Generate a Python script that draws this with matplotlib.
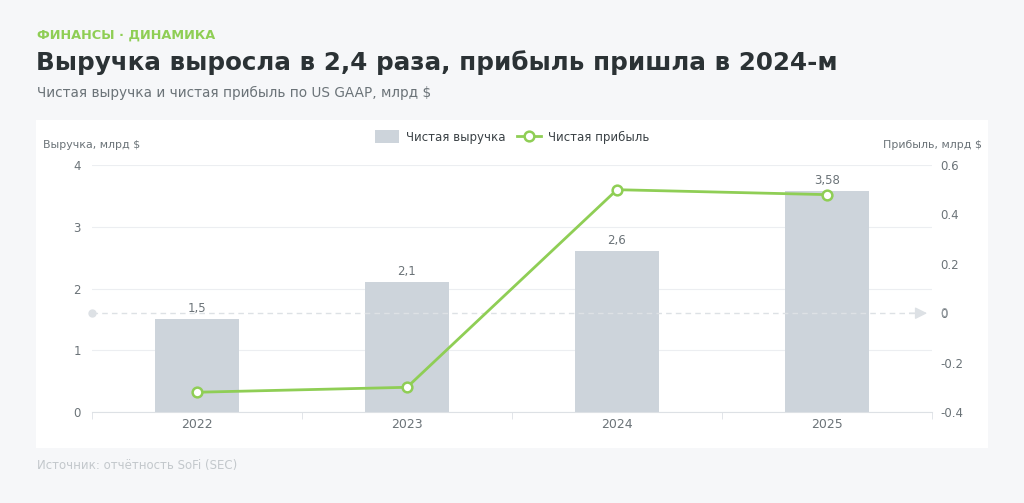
import matplotlib.pyplot as plt
from matplotlib.patches import Rectangle
from matplotlib.lines import Line2D
import numpy as np

# Data
years = ["2022", "2023", "2024", "2025"]
revenue = [1.5, 2.1, 2.6, 3.58]
revenue_labels = ["1,5", "2,1", "2,6", "3,58"]
profit = [-0.32, -0.30, 0.50, 0.48]

left_ticks = [0, 1, 2, 3, 4]
right_ticks = [-0.4, -0.2, 0, 0.2, 0.4, 0.6]
right_labels = ["-0.4", "-0.2", "0", "0.2", "0.4", "0.6"]

BG = "#f6f7f9"
BAR = "#cdd4db"
GREEN = "#8fce55"
TXT = "#6b7378"
GRID = "#eceef1"

plt.rcParams['font.family'] = ['DejaVu Sans']

fig = plt.figure(figsize=(10.24, 5.03), dpi=100)
fig.patch.set_facecolor(BG)

W, H = 1024, 503
# white panel behind the chart
fig.patches.append(Rectangle((36 / W, 1 - 448 / H), (988 - 36) / W, (448 - 120) / H,
                             transform=fig.transFigure, facecolor="white", edgecolor="none", zorder=-10))

# headings
fig.text(37 / W, 1 - 35 / H, "ФИНАНСЫ · ДИНАМИКА", color=GREEN, fontsize=9.3, fontweight="bold",
         va="center", ha="left")
fig.text(36 / W, 1 - 63 / H, "Выручка выросла в 2,4 раза, прибыль пришла в 2024-м", color="#2b3235",
         fontsize=17.7, fontweight="bold", va="center", ha="left")
fig.text(37 / W, 1 - 93 / H, "Чистая выручка и чистая прибыль по US GAAP, млрд $", color=TXT,
         fontsize=9.8, va="center", ha="left")
fig.text(37 / W, 1 - 466 / H, "Источник: отчётность SoFi (SEC)", color="#c3c8cc",
         fontsize=8.5, va="center", ha="left")

ax = fig.add_axes([92 / W, 1 - 412 / H, (932 - 92) / W, (412 - 165) / H])
ax.set_facecolor("none")
x = np.arange(len(years))
ax.bar(x, revenue, width=0.4, color=BAR, zorder=2)
for xi, v, lab in zip(x, revenue, revenue_labels):
    ax.text(xi, v + 0.07, lab, ha="center", va="bottom", fontsize=8.5, color=TXT)

ax.set_xlim(-0.5, 3.5)
ax.set_ylim(0, 4)
ax.set_yticks(left_ticks)
ax.set_yticklabels([str(t) for t in left_ticks])
ax.set_xticks(x)
ax.set_xticklabels(years)
ax.set_xticks(np.arange(-0.5, 4, 1), minor=True)
ax.tick_params(axis="x", which="major", length=0, colors=TXT, labelsize=9, pad=4)
ax.tick_params(axis="x", which="minor", length=5, color="#dde1e5", direction="out")
ax.tick_params(axis="y", length=0, colors=TXT, labelsize=8.5, pad=8)
ax.grid(axis="y", color=GRID, linewidth=0.8, zorder=0)
for s in ["top", "right", "left"]:
    ax.spines[s].set_visible(False)
ax.spines["bottom"].set_color("#dde1e5")

ax2 = ax.twinx()
ax2.set_ylim(-0.4, 0.6)
ax2.set_yticks(right_ticks)
ax2.set_yticklabels(right_labels)
ax2.tick_params(axis="y", length=0, colors=TXT, labelsize=8.5, pad=6)
for s in ["top", "right", "left", "bottom"]:
    ax2.spines[s].set_visible(False)

# zero line for profit
ax2.plot([-0.5, 3.42], [0, 0], color="#dde1e5", linestyle=(0, (4, 3)), linewidth=1, zorder=1)
ax2.plot([-0.5], [0], marker="o", markersize=5, color="#dde1e5", clip_on=False, zorder=1)
ax2.annotate("", xy=(3.49, 0), xytext=(3.38, 0),
             arrowprops=dict(arrowstyle="-|>", color="#dde1e5", lw=1, mutation_scale=18),
             annotation_clip=False)
ax2.text(1.0 + 8 / 840, 0, "0", transform=ax2.get_yaxis_transform(), color="#9aa0a5",
         fontsize=8.5, va="center", ha="left")

ax2.plot(x, profit, color=GREEN, linewidth=2, marker="o", markersize=7,
         markerfacecolor="white", markeredgecolor=GREEN, markeredgewidth=1.8, zorder=4)

# axis titles
fig.text(43 / W, 1 - 145 / H, "Выручка, млрд $", color=TXT, fontsize=7.9, va="center", ha="left")
fig.text(982 / W, 1 - 145 / H, "Прибыль, млрд $", color=TXT, fontsize=7.9, va="center", ha="right")

# legend
handles = [Rectangle((0, 0), 1, 1, facecolor=BAR, edgecolor="none"),
           Line2D([0], [0], color=GREEN, linewidth=2, marker="o", markersize=7,
                  markerfacecolor="white", markeredgecolor=GREEN, markeredgewidth=1.8)]
fig.legend(handles, ["Чистая выручка", "Чистая прибыль"], loc="center",
           bbox_to_anchor=(512 / W, 1 - 137 / H), ncol=2, frameon=False, fontsize=8.5,
           handlelength=2.0, handleheight=1.3, columnspacing=1.0, handletextpad=0.6,
           labelcolor="#3a4145")

fig.savefig("out.png", dpi=100, facecolor=BG)
